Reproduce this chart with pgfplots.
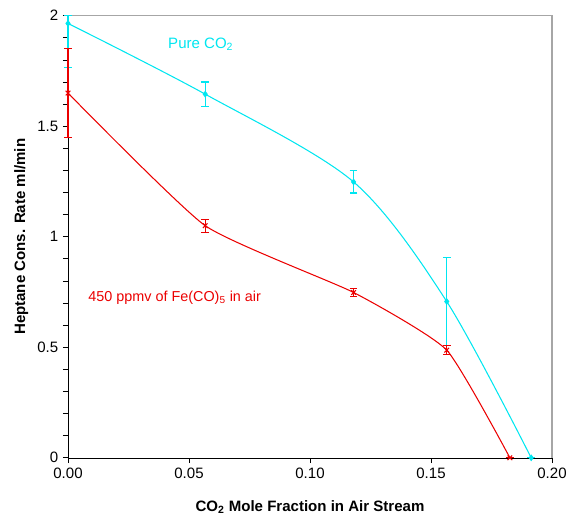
\documentclass[border=0pt]{standalone}
\usepackage{fontspec}
\setmainfont{Liberation Sans}
\usepackage{pgfplots}
\pgfplotsset{compat=1.18}
\definecolor{cyanline}{RGB}{0,230,240}
\definecolor{redline}{RGB}{235,0,0}
\begin{document}
\begin{tikzpicture}
\begin{axis}[
    scale only axis,
    width=370pt, height=338pt,
    xmin=0, xmax=0.2, ymin=0, ymax=2,
    axis lines=left,
    axis line style={-, black},
    tick align=outside,
    major tick length=4pt, minor tick length=4pt,
    tick style={black, line width=0.6pt},
    xtick={0,0.05,0.1,0.15,0.2},
    ytick={0,0.5,1,1.5,2},
    minor y tick num=4,
    xticklabel style={/pgf/number format/.cd, fixed, fixed zerofill, precision=2},
    /pgf/number format/assume math mode=true,
    tick label style={font=\fontsize{11.5}{13}\selectfont},
    xlabel={\bfseries CO\textsubscript{2} Mole Fraction in Air Stream},
    ylabel={\bfseries Heptane Cons. Rate ml/min},
    label style={font=\fontsize{11.5}{13}\selectfont},
    xlabel style={yshift=-10pt},
    clip=false,
]
\draw[gray!70, line width=0.8pt] (rel axis cs:0,1) -- (rel axis cs:1,1) -- (rel axis cs:1,0);
\path (rel axis cs:0,1) ++(0,12pt) coordinate (topspace);
\path (rel axis cs:0,0.5) ++(-52pt,0) coordinate (leftspace);
% pure CO2
\addplot[cyanline, line width=0.8pt, smooth, tension=0.5, mark=diamond*, mark size=2pt,
    error bars/.cd, y dir=both, y explicit,
    error bar style={draw=cyanline, color=cyanline, line width=0.8pt},
    error mark options={draw=cyanline, color=cyanline, rotate=90, mark size=3pt, line width=0.8pt}]
  coordinates {
    (0,1.965) += (0,0.035) -= (0,0.2)
    (0.0567,1.645) +- (0,0.055)
    (0.118,1.248) +- (0,0.05)
    (0.1565,0.707) +- (0,0.2)
    (0.1914,0) +- (0,0)
  };
% Fe(CO)5
\addplot[redline, line width=0.8pt, smooth, tension=0.3, mark=x, mark size=2.5pt,
    error bars/.cd, y dir=both, y explicit,
    error bar style={draw=redline, color=redline, line width=0.8pt},
    error mark options={draw=redline, color=redline, rotate=90, mark size=3pt, line width=0.8pt}]
  coordinates {
    (0,1.65) +- (0,0.2)
    (0.0567,1.05) +- (0,0.03)
    (0.118,0.748) +- (0,0.02)
    (0.1565,0.487) +- (0,0.02)
    (0.1826,0) +- (0,0)
  };
\node[anchor=west, text=cyanline, font=\fontsize{11.5}{13}\selectfont] at (axis cs:0.0395,1.87) {Pure CO\textsubscript{2}};
\node[anchor=west, text=redline, font=\fontsize{11}{13}\selectfont] at (axis cs:0.0065,0.725) {450 ppmv of Fe(CO)\textsubscript{5} in air};
\end{axis}
\end{tikzpicture}
\end{document}
